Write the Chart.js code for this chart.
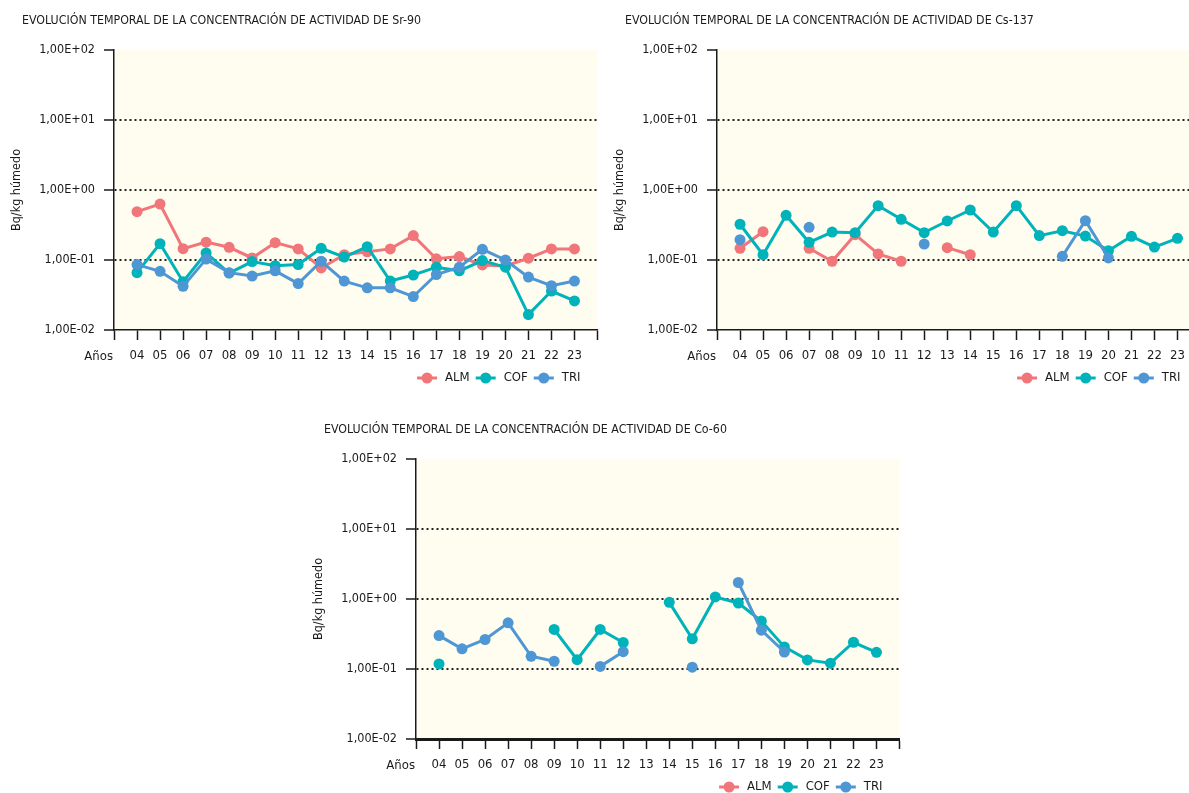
<!DOCTYPE html>
<html><head><meta charset="utf-8">
<script src="https://cdn.jsdelivr.net/npm/chart.js@4"></script>
<style>
html,body{margin:0;padding:0;background:#fff;overflow:hidden;width:1189px;height:793px;position:relative;}
canvas{position:absolute;}
</style></head>
<body>
<canvas id="c1" width="603" height="395" style="left:0;top:0"></canvas>
<canvas id="c2" width="603" height="395" style="left:603px;top:0"></canvas>
<canvas id="c3" width="603" height="395" style="left:302px;top:409px"></canvas>
<script>
// ---- data ----
const years = ['04','05','06','07','08','09','10','11','12','13','14','15','16','17','18','19','20','21','22','23'];
const yTickValues = [0.01, 0.1, 1, 10, 100];
const yTickLabels = ['1,00E-02','1,00E-01','1,00E+00','1,00E+01','1,00E+02'];
const seriesNames = ['ALM','COF','TRI'];

const srALM = [0.49, 0.63, 0.145, 0.18, 0.152, 0.107, 0.177, 0.144, 0.077, 0.119, 0.131, 0.144, 0.223, 0.104, 0.112, 0.085, 0.082, 0.106, 0.144, 0.144];
const srCOF = [0.066, 0.171, 0.049, 0.126, 0.065, 0.095, 0.083, 0.086, 0.147, 0.11, 0.155, 0.050, 0.061, 0.079, 0.070, 0.098, 0.079, 0.0166, 0.036, 0.026];
const srTRI = [0.086, 0.069, 0.042, 0.103, 0.066, 0.059, 0.070, 0.046, 0.096, 0.050, 0.040, 0.040, 0.030, 0.062, 0.079, 0.142, 0.100, 0.057, 0.043, 0.050];

const csALM = [0.147, 0.254, null, 0.147, 0.096, 0.230, 0.122, 0.096, null, 0.150, 0.119, null, null, null, null, null, null, null, null, null];
const csCOF = [0.324, 0.119, 0.435, 0.179, 0.251, 0.246, 0.598, 0.381, 0.246, 0.361, 0.518, 0.251, 0.598, 0.223, 0.262, 0.220, 0.136, 0.218, 0.153, 0.204];
const csTRI = [0.195, null, null, 0.293, null, null, null, null, 0.169, null, null, null, null, null, 0.113, 0.365, 0.107, null, null, null];

const coALM = [null, null, null, null, null, null, null, null, null, null, null, null, null, null, null, null, null, null, null, null];
const coCOF = [0.118, null, null, null, null, 0.367, 0.136, 0.367, 0.239, null, 0.896, 0.27, 1.07, 0.877, 0.483, 0.207, 0.135, 0.121, 0.241, 0.173];
const coTRI = [0.30, 0.194, 0.264, 0.457, 0.152, 0.129, null, 0.109, 0.177, null, null, 0.106, null, 1.72, 0.359, 0.175, null, null, null, null];

// ---- style ----
const FONT = "'DejaVu Sans Condensed','Liberation Sans Narrow','Arial Narrow',sans-serif";
const TXT = '#1a1a1a';
const seriesColors = ['#F0767A', '#00B2B9', '#4E96D4'];
const seriesOrder = [2, 1, 0];

const decor = {
  id: 'decor',
  beforeDraw(chart) {
    const {ctx, chartArea: a} = chart;
    ctx.save();
    ctx.fillStyle = '#FFFDF0';
    ctx.fillRect(a.left, a.top, a.right - a.left, a.bottom - a.top);
    ctx.restore();
  },
  afterDraw(chart, args, opts) {
    const {ctx, chartArea: a} = chart;
    ctx.save();
    ctx.fillStyle = TXT;
    ctx.textBaseline = 'middle';
    ctx.textAlign = 'left';
    ctx.font = '12.3px ' + FONT;
    ctx.fillText(opts.title, 22, 21);
    ctx.font = '13px ' + FONT;
    ctx.textAlign = 'right';
    ctx.fillText(opts.xName, a.left - 1, a.bottom + 27);
    // legend
    const items = chart.data.datasets.map(d => ({label: d.label, color: d.borderColor}));
    ctx.font = '13px ' + FONT;
    const mw = 20, gap = 8, sep = 6;
    const widths = items.map(it => mw + gap + ctx.measureText(it.label).width);
    const total = widths.reduce((s, w) => s + w, 0) + sep * (items.length - 1);
    let x = a.right - opts.legendRight - total;
    const y = a.bottom + 48;
    items.forEach((it, i) => {
      ctx.strokeStyle = it.color; ctx.lineWidth = 3;
      ctx.beginPath(); ctx.moveTo(x, y); ctx.lineTo(x + mw, y); ctx.stroke();
      ctx.fillStyle = it.color;
      ctx.beginPath(); ctx.arc(x + mw / 2, y, 5.5, 0, Math.PI * 2); ctx.fill();
      ctx.fillStyle = TXT; ctx.textAlign = 'left';
      ctx.fillText(it.label, x + mw + gap, y);
      x += widths[i] + sep;
    });
    ctx.restore();
  }
};

function makeChart(id, title, seriesList, xBorder, legendRight) {
  const datasets = seriesList.map((arr, k) => ({
    label: seriesNames[k],
    data: years.map((yr, i) => ({x: Number(yr), y: arr[i]})),
    borderColor: seriesColors[k],
    backgroundColor: seriesColors[k],
    pointBackgroundColor: seriesColors[k],
    pointBorderWidth: 0,
    pointRadius: 5.5,
    borderWidth: 3,
    tension: 0,
    spanGaps: false,
    order: seriesOrder[k]
  }));
  return new Chart(document.getElementById(id), {
    type: 'line',
    data: {datasets},
    plugins: [decor],
    options: {
      responsive: false,
      animation: false,
      devicePixelRatio: 1,
      events: [],
      layout: {padding: {left: 0, right: 0, top: 50, bottom: 25}},
      plugins: {
        legend: {display: false},
        tooltip: {enabled: false},
        decor: {title, xName: 'Años', legendRight}
      },
      scales: {
        x: {
          type: 'linear', min: 3, max: 24,
          afterBuildTicks: s => { const t = []; for (let v = 3; v <= 24; v++) t.push({value: v}); s.ticks = t; },
          afterFit: s => { s.height = 40; s.paddingLeft = 0; s.paddingRight = 0; },
          ticks: {
            callback: v => { const i = years.findIndex(yr => Number(yr) === v); return i >= 0 ? years[i] : ''; },
            font: {family: FONT, size: 13}, color: TXT, padding: 8, maxRotation: 0, autoSkip: false
          },
          grid: {drawOnChartArea: false, drawTicks: true, tickLength: 10, tickColor: TXT, tickWidth: 1.5},
          border: {display: true, color: TXT, width: xBorder}
        },
        y: {
          type: 'logarithmic', min: 0.01, max: 100,
          afterBuildTicks: s => { s.ticks = yTickValues.map(v => ({value: v})); },
          afterFit: s => { s.width = 114; },
          ticks: {
            callback: v => { const i = yTickValues.indexOf(v); return i >= 0 ? yTickLabels[i] : ''; },
            font: {family: FONT, size: 12.5}, color: TXT, padding: 9, autoSkip: false
          },
          grid: {
            color: c => (c.tick && (c.tick.value === 0.01 || c.tick.value === 100)) ? 'rgba(0,0,0,0)' : '#222',
            lineWidth: 2, drawTicks: true, tickLength: 10, tickColor: TXT, tickWidth: 1.5, tickBorderDash: []
          },
          border: {display: true, color: TXT, width: 1.5, dash: [2, 3]},
          title: {display: true, text: 'Bq/kg húmedo', font: {family: FONT, size: 12.5}, color: TXT, padding: {top: 9, bottom: 0}}
        }
      }
    }
  });
}

makeChart('c1', 'EVOLUCIÓN TEMPORAL DE LA CONCENTRACIÓN DE ACTIVIDAD DE Sr-90', [srALM, srCOF, srTRI], 1.5, 17);
makeChart('c2', 'EVOLUCIÓN TEMPORAL DE LA CONCENTRACIÓN DE ACTIVIDAD DE Cs-137', [csALM, csCOF, csTRI], 1.5, 20);
makeChart('c3', 'EVOLUCIÓN TEMPORAL DE LA CONCENTRACIÓN DE ACTIVIDAD DE Co-60', [coALM, coCOF, coTRI], 3, 17);
</script>
</body></html>
